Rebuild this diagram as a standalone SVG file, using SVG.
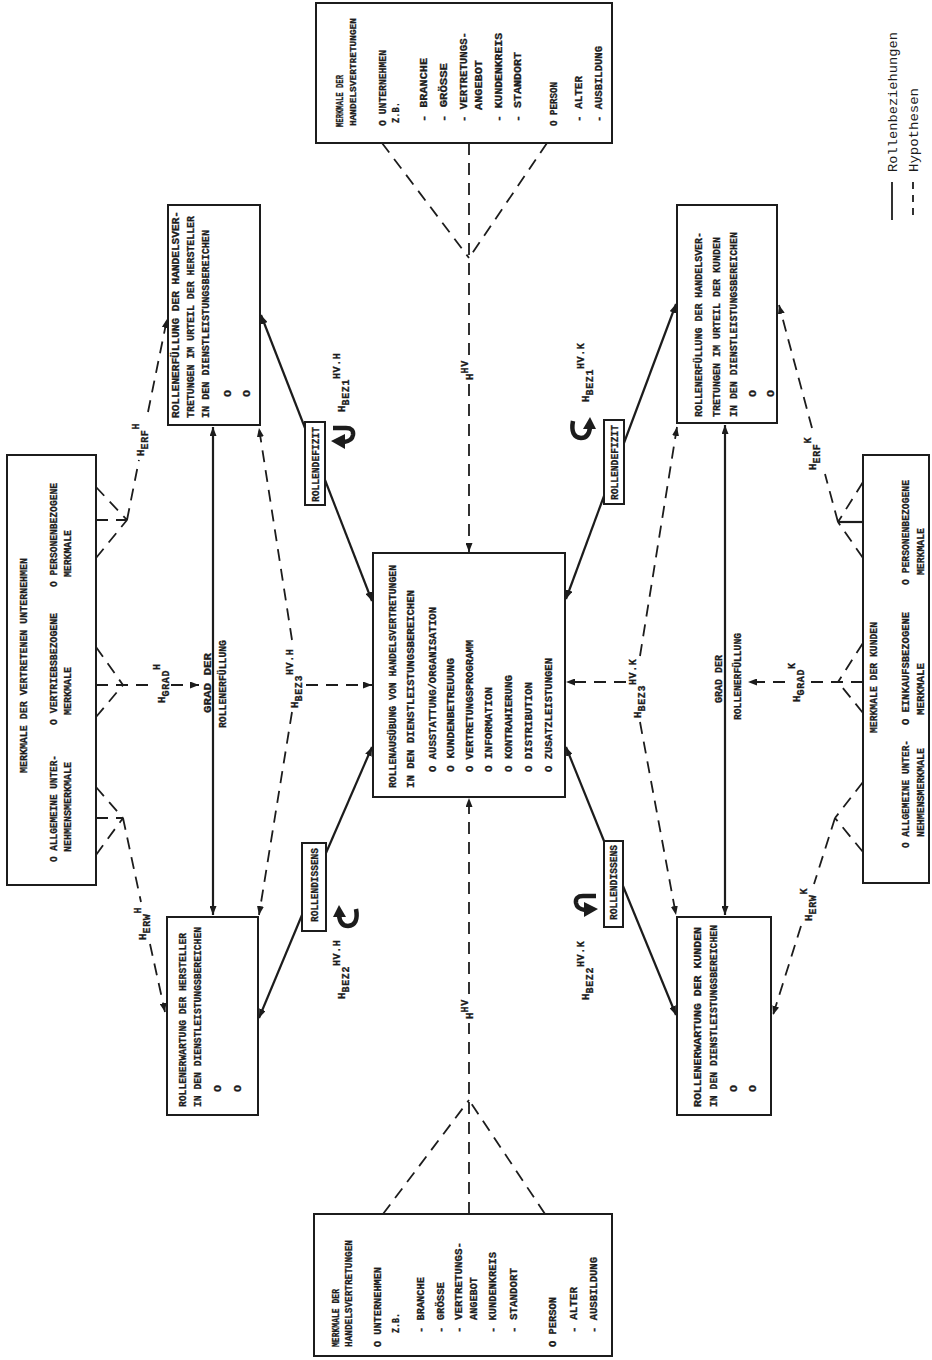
<svg xmlns="http://www.w3.org/2000/svg" width="932" height="1360" viewBox="0 0 932 1360">
<defs>
<style>
.t{font-family:"Liberation Mono","DejaVu Sans Mono",monospace;font-weight:700;font-size:11.5px;fill:#1c1c1c;stroke:#1c1c1c;stroke-width:0.3}
.sm{font-size:10.5px}
.xs{font-size:9.5px}
.lg{font-family:"Liberation Mono","DejaVu Sans Mono",monospace;font-size:13.5px;fill:#1c1c1c}
.lb{font-family:"Liberation Mono","DejaVu Sans Mono",monospace;font-weight:700;font-size:11px;fill:#1c1c1c;stroke:#1c1c1c;stroke-width:0.3}
.lb tspan{font-size:10px;letter-spacing:0.6px}
.bx{fill:#fff;stroke:#1c1c1c;stroke-width:2}
.s{fill:none;stroke:#1c1c1c;stroke-width:2.2}
.d{fill:none;stroke:#1c1c1c;stroke-width:1.8;stroke-dasharray:12 8}
.cv{fill:none;stroke:#1c1c1c;stroke-width:4.5}
.ah{fill:#1c1c1c}
</style>
<marker id="a" viewBox="0 0 9 7" refX="9" refY="3.5" markerWidth="9" markerHeight="7" markerUnits="userSpaceOnUse" orient="auto-start-reverse"><path d="M0,0 L9,3.5 L0,7 z" fill="#1c1c1c"/></marker>
</defs>
<rect width="932" height="1360" fill="#fff"/>

<g id="connectors">
  <path class="d" d="M382,143 L469,258 M547,143 L469,258 M469,143 V356"/>
  <path class="d" d="M469,384 V552" marker-end="url(#a)"/>
  <path class="d" d="M383,1214 L469,1100 M545,1214 L469,1100 M469,1214 V1023"/>
  <path class="d" d="M469,994 V798" marker-end="url(#a)"/>

  <path class="d" d="M96,487 L127,520 M96,558 L127,520 M96,520 H127 M127,520 L139,460"/>
  <path class="d" d="M148,412 L167,319" marker-end="url(#a)"/>
  <path class="d" d="M96,647 L123,685 M96,717 L123,685 M96,685 H148"/>
  <path class="d" d="M171,685 H199" marker-end="url(#a)"/>
  <path class="d" d="M96,787 L123,818 M96,855 L123,818 M96,818 H123 M123,818 L141,902"/>
  <path class="d" d="M150,944 L165,1012" marker-end="url(#a)"/>

  <path class="d" d="M863,482 L838,522 M863,558 L838,522 M838,522 L825,474"/>
  <path class="s" d="M838,522 H863"/>
  <path class="d" d="M812,428 L779,305" marker-end="url(#a)"/>
  <path class="d" d="M863,643 L838,682 M863,713 L838,682 M863,682 H807"/>
  <path class="d" d="M785,682 H748" marker-end="url(#a)"/>
  <path class="d" d="M863,782 L835,818 M863,852 L835,818 M835,818 L814,884"/>
  <path class="d" d="M801,926 L773,1015" marker-end="url(#a)"/>

  <path class="s" d="M213,427 V915" marker-start="url(#a)" marker-end="url(#a)"/>
  <path class="s" d="M725,425 V915" marker-start="url(#a)" marker-end="url(#a)"/>

  <path class="d" d="M292,640 L259,428" marker-end="url(#a)"/>
  <path class="d" d="M292,712 L259,915" marker-end="url(#a)"/>
  <path class="d" d="M306,685 H372" marker-end="url(#a)"/>
  <path class="d" d="M640,656 L677,427" marker-end="url(#a)"/>
  <path class="d" d="M640,722 L676,915" marker-end="url(#a)"/>
  <path class="d" d="M626,682 H566" marker-end="url(#a)"/>

  <path class="s" d="M305,428 L261,315" marker-end="url(#a)"/>
  <path class="s" d="M325,480 L372,601" marker-end="url(#a)"/>
  <path class="s" d="M326,853 L372,747" marker-end="url(#a)"/>
  <path class="s" d="M302,915 L259,1018" marker-end="url(#a)"/>
  <path class="s" d="M624,443 L676,304" marker-end="url(#a)"/>
  <path class="s" d="M604,496 L566,599" marker-end="url(#a)"/>
  <path class="s" d="M604,841 L566,747" marker-end="url(#a)"/>
  <path class="s" d="M623,886 L676,1015" marker-end="url(#a)"/>

  <g id="curl-lt">
    <path class="cv" d="M333,428 H346 Q354,428 353,435 Q352,441 344,442"/>
    <polygon class="ah" points="331,441 345,434 345,449"/>
  </g>
  <g id="curl-lb">
    <path class="cv" d="M356,909 Q359,925 348,926 Q340,926 339,915"/>
    <polygon class="ah" points="339,905 333,917 346,917"/>
  </g>
  <g id="curl-rt" transform="matrix(-1 0 0 1 929 0)">
    <path class="cv" d="M356,421 Q359,437 348,438 Q340,438 339,427"/>
    <polygon class="ah" points="339,417 333,429 346,429"/>
  </g>
  <g id="curl-rb" transform="matrix(-1 0 0 1 929 0)">
    <path class="cv" d="M333,896 H346 Q354,896 353,903 Q352,909 344,910"/>
    <polygon class="ah" points="331,909 345,902 345,917"/>
  </g>
</g>

<g id="labels">
  <text class="lb" transform="translate(144 456) rotate(-90)">H<tspan dy="3.5">ERF</tspan><tspan dy="-9">H</tspan></text>
  <text class="lb" transform="translate(146 940) rotate(-90)">H<tspan dy="3.5">ERW</tspan><tspan dy="-9">H</tspan></text>
  <text class="lb" transform="translate(165 703) rotate(-90)">H<tspan dy="3.5">GRAD</tspan><tspan dy="-9">H</tspan></text>
  <text class="lb" transform="translate(345 412) rotate(-90)">H<tspan dy="3.5">BEZ1</tspan><tspan dy="-9">HV.H</tspan></text>
  <text class="lb" transform="translate(298 708) rotate(-90)">H<tspan dy="3.5">BEZ3</tspan><tspan dy="-9">HV.H</tspan></text>
  <text class="lb" transform="translate(345 999) rotate(-90)">H<tspan dy="3.5">BEZ2</tspan><tspan dy="-9">HV.H</tspan></text>
  <text class="lb" transform="translate(473 380) rotate(-90)">H<tspan dy="-5.5">HV</tspan></text>
  <text class="lb" transform="translate(473 1019) rotate(-90)">H<tspan dy="-5.5">HV</tspan></text>
  <text class="lb" transform="translate(816 470) rotate(-90)">H<tspan dy="3.5">ERF</tspan><tspan dy="-9">K</tspan></text>
  <text class="lb" transform="translate(800 702) rotate(-90)">H<tspan dy="3.5">GRAD</tspan><tspan dy="-9">K</tspan></text>
  <text class="lb" transform="translate(641 718) rotate(-90)">H<tspan dy="3.5">BEZ3</tspan><tspan dy="-9">HV.K</tspan></text>
  <text class="lb" transform="translate(812 921) rotate(-90)">H<tspan dy="3.5">ERW</tspan><tspan dy="-9">K</tspan></text>
  <text class="lb" transform="translate(589 402) rotate(-90)">H<tspan dy="3.5">BEZ1</tspan><tspan dy="-9">HV.K</tspan></text>
  <text class="lb" transform="translate(589 1000) rotate(-90)">H<tspan dy="3.5">BEZ2</tspan><tspan dy="-9">HV.K</tspan></text>
</g>

<g id="grad-text">
  <text class="t" transform="translate(210.5 713) rotate(-90)" textLength="60" lengthAdjust="spacingAndGlyphs">GRAD DER</text>
  <text class="t" transform="translate(225.5 728) rotate(-90)" textLength="88" lengthAdjust="spacingAndGlyphs">ROLLENERFÜLLUNG</text>
  <text class="t" transform="translate(721.5 703) rotate(-90)" textLength="48" lengthAdjust="spacingAndGlyphs">GRAD DER</text>
  <text class="t" transform="translate(740.5 720) rotate(-90)" textLength="87" lengthAdjust="spacingAndGlyphs">ROLLENERFÜLLUNG</text>
</g>

<g id="node-merkmale-hv-top">
  <rect class="bx" x="316" y="3" width="296" height="140"/>
  <text class="t" transform="translate(342.5 127) rotate(-90)" textLength="52" lengthAdjust="spacingAndGlyphs">MERKMALE DER</text>
  <text class="t xs" transform="translate(355.5 126) rotate(-90)" textLength="108" lengthAdjust="spacingAndGlyphs">HANDELSVERTRETUNGEN</text>
  <text class="t" transform="translate(385.5 126) rotate(-90)" textLength="76" lengthAdjust="spacingAndGlyphs">O UNTERNEHMEN</text>
  <text class="t" transform="translate(398.5 123) rotate(-90)" textLength="21" lengthAdjust="spacingAndGlyphs">Z.B.</text>
  <text class="t" transform="translate(426.5 122) rotate(-90)" textLength="64" lengthAdjust="spacingAndGlyphs">- BRANCHE</text>
  <text class="t" transform="translate(446.5 122) rotate(-90)" textLength="59" lengthAdjust="spacingAndGlyphs">- GRÖSSE</text>
  <text class="t" transform="translate(466.5 122) rotate(-90)" textLength="90" lengthAdjust="spacingAndGlyphs">- VERTRETUNGS-</text>
  <text class="t" transform="translate(481.5 110) rotate(-90)" textLength="50" lengthAdjust="spacingAndGlyphs">ANGEBOT</text>
  <text class="t" transform="translate(501.5 122) rotate(-90)" textLength="89" lengthAdjust="spacingAndGlyphs">- KUNDENKREIS</text>
  <text class="t" transform="translate(520.5 122) rotate(-90)" textLength="70" lengthAdjust="spacingAndGlyphs">- STANDORT</text>
  <text class="t" transform="translate(556.5 126) rotate(-90)" textLength="44" lengthAdjust="spacingAndGlyphs">O PERSON</text>
  <text class="t" transform="translate(581.5 122) rotate(-90)" textLength="46" lengthAdjust="spacingAndGlyphs">- ALTER</text>
  <text class="t" transform="translate(601.5 122) rotate(-90)" textLength="76" lengthAdjust="spacingAndGlyphs">- AUSBILDUNG</text>
</g>

<g id="node-merkmale-hv-bottom">
  <rect class="bx" x="314" y="1214" width="298" height="142"/>
  <text class="t" transform="translate(338.5 1347) rotate(-90)" textLength="58" lengthAdjust="spacingAndGlyphs">MERKMALE DER</text>
  <text class="t" transform="translate(351.5 1347) rotate(-90)" textLength="107" lengthAdjust="spacingAndGlyphs">HANDELSVERTRETUNGEN</text>
  <text class="t" transform="translate(380.5 1347) rotate(-90)" textLength="80" lengthAdjust="spacingAndGlyphs">O UNTERNEHMEN</text>
  <text class="t" transform="translate(398.5 1333) rotate(-90)" textLength="20" lengthAdjust="spacingAndGlyphs">Z.B.</text>
  <text class="t" transform="translate(423.5 1333) rotate(-90)" textLength="56" lengthAdjust="spacingAndGlyphs">- BRANCHE</text>
  <text class="t" transform="translate(443.5 1333) rotate(-90)" textLength="51" lengthAdjust="spacingAndGlyphs">- GRÖSSE</text>
  <text class="t" transform="translate(461.5 1333) rotate(-90)" textLength="91" lengthAdjust="spacingAndGlyphs">- VERTRETUNGS-</text>
  <text class="t" transform="translate(476.5 1320) rotate(-90)" textLength="43" lengthAdjust="spacingAndGlyphs">ANGEBOT</text>
  <text class="t" transform="translate(495.5 1333) rotate(-90)" textLength="81" lengthAdjust="spacingAndGlyphs">- KUNDENKREIS</text>
  <text class="t" transform="translate(516.5 1333) rotate(-90)" textLength="65" lengthAdjust="spacingAndGlyphs">- STANDORT</text>
  <text class="t" transform="translate(555.5 1347) rotate(-90)" textLength="50" lengthAdjust="spacingAndGlyphs">O PERSON</text>
  <text class="t" transform="translate(576.5 1333) rotate(-90)" textLength="46" lengthAdjust="spacingAndGlyphs">- ALTER</text>
  <text class="t" transform="translate(596.5 1333) rotate(-90)" textLength="76" lengthAdjust="spacingAndGlyphs">- AUSBILDUNG</text>
</g>

<g id="node-erfuellung-hersteller">
  <rect class="bx" x="168" y="205" width="92" height="220"/>
  <text class="t" transform="translate(178.5 418) rotate(-90)" textLength="207" lengthAdjust="spacingAndGlyphs">ROLLENERFÜLLUNG DER HANDELSVER-</text>
  <text class="t" transform="translate(193.5 418) rotate(-90)" textLength="202" lengthAdjust="spacingAndGlyphs">TRETUNGEN IM URTEIL DER HERSTELLER</text>
  <text class="t" transform="translate(208.5 418) rotate(-90)" textLength="188" lengthAdjust="spacingAndGlyphs">IN DEN DIENSTLEISTUNGSBEREICHEN</text>
  <text class="t" transform="translate(230.5 397) rotate(-90)">O</text>
  <text class="t" transform="translate(249.5 397) rotate(-90)">O</text>
</g>

<g id="node-erfuellung-kunden">
  <rect class="bx" x="677" y="205" width="100" height="218"/>
  <text class="t" transform="translate(702 417) rotate(-90)" textLength="185" lengthAdjust="spacingAndGlyphs">ROLLENERFÜLLUNG DER HANDELSVER-</text>
  <text class="t" transform="translate(720 417) rotate(-90)" textLength="180" lengthAdjust="spacingAndGlyphs">TRETUNGEN IM URTEIL DER KUNDEN</text>
  <text class="t" transform="translate(737 417) rotate(-90)" textLength="185" lengthAdjust="spacingAndGlyphs">IN DEN DIENSTLEISTUNGSBEREICHEN</text>
  <text class="t" transform="translate(755.5 397) rotate(-90)">O</text>
  <text class="t" transform="translate(774 397) rotate(-90)">O</text>
</g>

<g id="node-erwartung-hersteller">
  <rect class="bx" x="167" y="917" width="91" height="198"/>
  <text class="t" transform="translate(185.5 1107) rotate(-90)" textLength="174" lengthAdjust="spacingAndGlyphs">ROLLENERWARTUNG DER HERSTELLER</text>
  <text class="t" transform="translate(200.5 1107) rotate(-90)" textLength="180" lengthAdjust="spacingAndGlyphs">IN DEN DIENSTLEISTUNGSBEREICHEN</text>
  <text class="t" transform="translate(220.5 1092) rotate(-90)">O</text>
  <text class="t" transform="translate(240.5 1092) rotate(-90)">O</text>
</g>

<g id="node-erwartung-kunden">
  <rect class="bx" x="677" y="917" width="94" height="198"/>
  <text class="t" transform="translate(700.5 1107) rotate(-90)" textLength="180" lengthAdjust="spacingAndGlyphs">ROLLENERWARTUNG DER KUNDEN</text>
  <text class="t" transform="translate(716.5 1107) rotate(-90)" textLength="182" lengthAdjust="spacingAndGlyphs">IN DEN DIENSTLEISTUNGSBEREICHEN</text>
  <text class="t" transform="translate(736.5 1092) rotate(-90)">O</text>
  <text class="t" transform="translate(755.5 1092) rotate(-90)">O</text>
</g>

<g id="node-rollenausuebung">
  <rect class="bx" x="373" y="553" width="192" height="244"/>
  <text class="t" transform="translate(395.5 788) rotate(-90)" textLength="223" lengthAdjust="spacingAndGlyphs">ROLLENAUSÜBUNG VON HANDELSVERTRETUNGEN</text>
  <text class="t" transform="translate(413.5 788) rotate(-90)" textLength="198" lengthAdjust="spacingAndGlyphs">IN DEN DIENSTLEISTUNGSBEREICHEN</text>
  <text class="t" transform="translate(435.5 772) rotate(-90)" textLength="165" lengthAdjust="spacingAndGlyphs">O AUSSTATTUNG/ORGANISATION</text>
  <text class="t" transform="translate(453.5 772) rotate(-90)" textLength="114" lengthAdjust="spacingAndGlyphs">O KUNDENBETREUUNG</text>
  <text class="t" transform="translate(472.5 772) rotate(-90)" textLength="132" lengthAdjust="spacingAndGlyphs">O VERTRETUNGSPROGRAMM</text>
  <text class="t" transform="translate(491.5 772) rotate(-90)" textLength="85" lengthAdjust="spacingAndGlyphs">O INFORMATION</text>
  <text class="t" transform="translate(511.5 772) rotate(-90)" textLength="97" lengthAdjust="spacingAndGlyphs">O KONTRAHIERUNG</text>
  <text class="t" transform="translate(531.5 772) rotate(-90)" textLength="90" lengthAdjust="spacingAndGlyphs">O DISTRIBUTION</text>
  <text class="t" transform="translate(551.5 772) rotate(-90)" textLength="114" lengthAdjust="spacingAndGlyphs">O ZUSATZLEISTUNGEN</text>
</g>

<g id="node-merkmale-unternehmen">
  <rect class="bx" x="7" y="455" width="89" height="430"/>
  <text class="t" transform="translate(26.5 773) rotate(-90)" textLength="215" lengthAdjust="spacingAndGlyphs">MERKMALE DER VERTRETENEN UNTERNEHMEN</text>
  <text class="t" transform="translate(56.5 862) rotate(-90)" textLength="107" lengthAdjust="spacingAndGlyphs">O ALLGEMEINE UNTER-</text>
  <text class="t" transform="translate(70.5 852) rotate(-90)" textLength="90" lengthAdjust="spacingAndGlyphs">NEHMENSMERKMALE</text>
  <text class="t" transform="translate(56.5 725) rotate(-90)" textLength="112" lengthAdjust="spacingAndGlyphs">O VERTRIEBSBEZOGENE</text>
  <text class="t" transform="translate(70.5 715) rotate(-90)" textLength="48" lengthAdjust="spacingAndGlyphs">MERKMALE</text>
  <text class="t" transform="translate(56.5 587) rotate(-90)" textLength="104" lengthAdjust="spacingAndGlyphs">O PERSONENBEZOGENE</text>
  <text class="t" transform="translate(70.5 577) rotate(-90)" textLength="47" lengthAdjust="spacingAndGlyphs">MERKMALE</text>
</g>

<g id="node-merkmale-kunden">
  <rect class="bx" x="863" y="455" width="66" height="428"/>
  <text class="t" transform="translate(876.5 733) rotate(-90)" textLength="111" lengthAdjust="spacingAndGlyphs">MERKMALE DER KUNDEN</text>
  <text class="t" transform="translate(908.5 848) rotate(-90)" textLength="108" lengthAdjust="spacingAndGlyphs">O ALLGEMEINE UNTER-</text>
  <text class="t" transform="translate(923.5 837) rotate(-90)" textLength="89" lengthAdjust="spacingAndGlyphs">NEHMENSMERKMALE</text>
  <text class="t" transform="translate(908.5 725) rotate(-90)" textLength="113" lengthAdjust="spacingAndGlyphs">O EINKAUFSBEZOGENE</text>
  <text class="t" transform="translate(923.5 715) rotate(-90)" textLength="52" lengthAdjust="spacingAndGlyphs">MERKMALE</text>
  <text class="t" transform="translate(908.5 585) rotate(-90)" textLength="105" lengthAdjust="spacingAndGlyphs">O PERSONENBEZOGENE</text>
  <text class="t" transform="translate(923.5 575) rotate(-90)" textLength="47" lengthAdjust="spacingAndGlyphs">MERKMALE</text>
</g>

<g id="node-defizit-h">
  <rect class="bx" x="305" y="422" width="20" height="83"/>
  <text class="t sm" transform="translate(318.5 502) rotate(-90)" textLength="75" lengthAdjust="spacingAndGlyphs">ROLLENDEFIZIT</text>
</g>
<g id="node-dissens-h">
  <rect class="bx" x="302" y="843" width="24" height="88"/>
  <text class="t sm" transform="translate(317.5 922) rotate(-90)" textLength="74" lengthAdjust="spacingAndGlyphs">ROLLENDISSENS</text>
</g>
<g id="node-defizit-k">
  <rect class="bx" x="604" y="420" width="20" height="84"/>
  <text class="t sm" transform="translate(617.5 500) rotate(-90)" textLength="75" lengthAdjust="spacingAndGlyphs">ROLLENDEFIZIT</text>
</g>
<g id="node-dissens-k">
  <rect class="bx" x="604" y="841" width="19" height="86"/>
  <text class="t sm" transform="translate(616.5 920) rotate(-90)" textLength="75" lengthAdjust="spacingAndGlyphs">ROLLENDISSENS</text>
</g>

<g id="legend">
  <path class="s" d="M892,182 V220" style="stroke-width:1.8"/>
  <text class="lg" transform="translate(897 172) rotate(-90)" textLength="140" lengthAdjust="spacingAndGlyphs">Rollenbeziehungen</text>
  <path class="d" d="M913,182 V220" style="stroke-dasharray:7 6"/>
  <text class="lg" transform="translate(918 172) rotate(-90)" textLength="84" lengthAdjust="spacingAndGlyphs">Hypothesen</text>
</g>
</svg>
